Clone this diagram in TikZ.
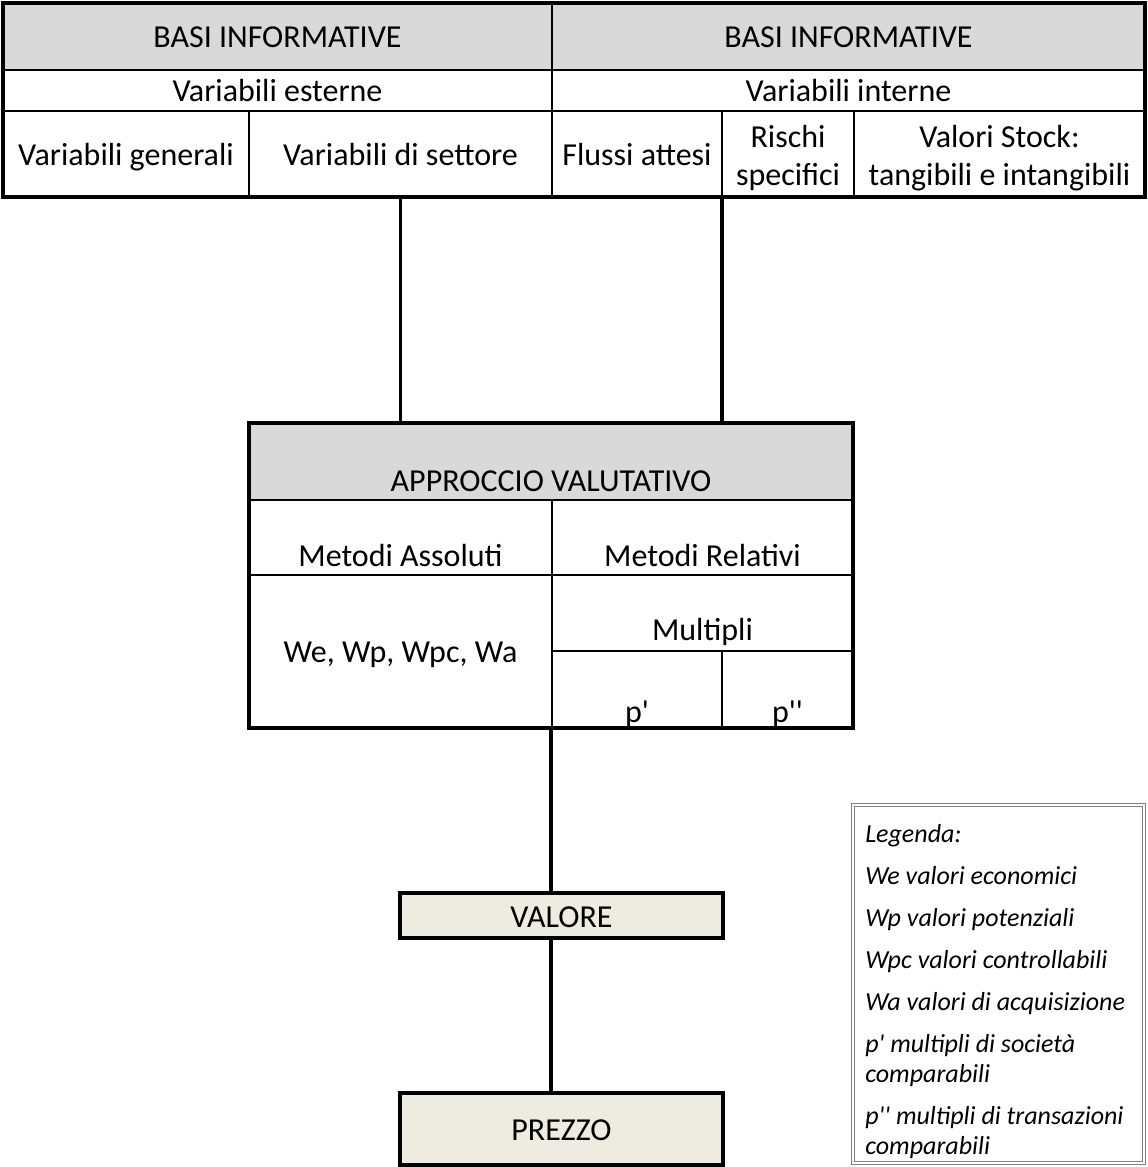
\documentclass[tikz,border=0pt]{standalone}
\usepackage{fontspec}
\setmainfont{Carlito}[Ligatures=TeXOff]
\usetikzlibrary{fit}
\definecolor{hdrgray}{RGB}{217,217,217}
\definecolor{boxtan}{RGB}{238,236,225}
\definecolor{leggray}{RGB}{128,128,128}
\tikzset{
  cellbox/.style={draw=black, line width=1.5pt, inner sep=0pt, outer sep=0pt},
  hdrbox/.style={cellbox, fill=hdrgray},
  frame/.style={draw=black, line width=2.4pt, inner sep=0pt, outer sep=0pt},
  tanbox/.style={frame, fill=boxtan},
  conn/.style={draw=black, line width=2.4pt},
  txt/.style={font=\fontsize{24}{28.5}\selectfont, anchor=base, inner sep=0pt, align=center},
  legtxt/.style={font=\fontsize{19.5}{22.5}\selectfont\itshape, anchor=base west, inner sep=0pt, align=left},
  legframe/.style={draw=leggray, double=white, double distance=2.2pt, line width=0.6pt, inner sep=0pt}
}
\begin{document}
\begin{tikzpicture}[x=0.75pt,y=0.75pt,yscale=-1,xscale=1]
\path[use as bounding box] (0,0) rectangle (1148,1167);

%Shape: Table basi informative
\node[fit={(3,3) (552,70)}, hdrbox] (basiL) {};
\node[fit={(552,3) (1145,70)}, hdrbox] (basiR) {};
\node[fit={(3,70) (552,111)}, cellbox] (esterne) {};
\node[fit={(552,70) (1145,111)}, cellbox] (interne) {};
\node[fit={(3,111) (249,197)}, cellbox] (generali) {};
\node[fit={(249,111) (552,197)}, cellbox] (settore) {};
\node[fit={(552,111) (722,197)}, cellbox] (flussi) {};
\node[fit={(722,111) (854,197)}, cellbox] (rischi) {};
\node[fit={(854,111) (1145,197)}, cellbox] (stock) {};
\node[fit={(3,3) (1145,197)}, frame] (basi) {};

%Shape: Table approccio valutativo
\node[fit={(249,423) (853,500)}, hdrbox] (apprH) {};
\node[fit={(249,500) (552,575)}, cellbox] (assoluti) {};
\node[fit={(552,500) (853,575)}, cellbox] (relativi) {};
\node[fit={(249,575) (552,728)}, cellbox] (wval) {};
\node[fit={(552,575) (853,651)}, cellbox] (multipli) {};
\node[fit={(552,651) (722,728)}, cellbox] (pone) {};
\node[fit={(722,651) (853,728)}, cellbox] (ptwo) {};
\node[fit={(249,423) (853,728)}, frame] (appr) {};

%Shape: Rectangle
\node[fit={(400,893) (723,938)}, tanbox] (valore) {};
%Shape: Rectangle
\node[fit={(400,1093) (723,1165)}, tanbox] (prezzo) {};
%Shape: Legend
\node[fit={(853,805) (1144,1163)}, legframe] (legenda) {};

%Straight Lines
\draw[conn] (settore.south) -- (settore.south |- appr.north);
\draw[conn] (rischi.south west) -- (rischi.south west |- appr.north);
\draw[conn] (appr.south) -- (appr.south |- valore.north);
\draw[conn] (valore.south -| appr.south) -- (appr.south |- prezzo.north);

% Text Node
\node[txt] (tBasiL) at (277.5,47) {BASI INFORMATIVE};
\node[txt] (tBasiR) at (848.5,47) {BASI INFORMATIVE};
\node[txt] (tEst) at (277.5,101) {Variabili esterne};
\node[txt] (tInt) at (848.5,101) {Variabili interne};
\node[txt] (tGen) at (126,165) {Variabili generali};
\node[txt] (tSet) at (400.5,165) {Variabili di settore};
\node[txt] (tFlu) at (637,165) {Flussi attesi};
\node[txt] (tRis) at (788,185) {Rischi\\specifici};
\node[txt] (tSto) at (999.5,185) {Valori Stock:\\tangibili e intangibili};
% Text Node
\node[txt] (tAppr) at (551,491) {APPROCCIO VALUTATIVO};
\node[txt] (tAss) at (400.5,566) {Metodi Assoluti};
\node[txt] (tRel) at (702.5,566) {Metodi Relativi};
\node[txt] (tW) at (400.5,662) {We, Wp, Wpc, Wa};
\node[txt] (tMul) at (702.5,640) {Multipli};
\node[txt] (tP1) at (637,722) {p'};
\node[txt] (tP2) at (787.5,722) {p''};
% Text Node
\node[txt] (tVal) at (561.5,927) {VALORE};
\node[txt] (tPre) at (561.5,1140) {PREZZO};
% Text Node
\node[legtxt] (lg0) at (865,842) {Legenda:};
\node[legtxt] (lg1) at (865,884) {We valori economici};
\node[legtxt] (lg2) at (865,926) {Wp valori potenziali};
\node[legtxt] (lg3) at (865,968) {Wpc valori controllabili};
\node[legtxt] (lg4) at (865,1010) {Wa valori di acquisizione};
\node[legtxt] (lg5) at (865,1082) {p' multipli di società\\comparabili};
\node[legtxt] (lg6) at (865,1154) {p'' multipli di transazioni\\comparabili};

\end{tikzpicture}
\end{document}
